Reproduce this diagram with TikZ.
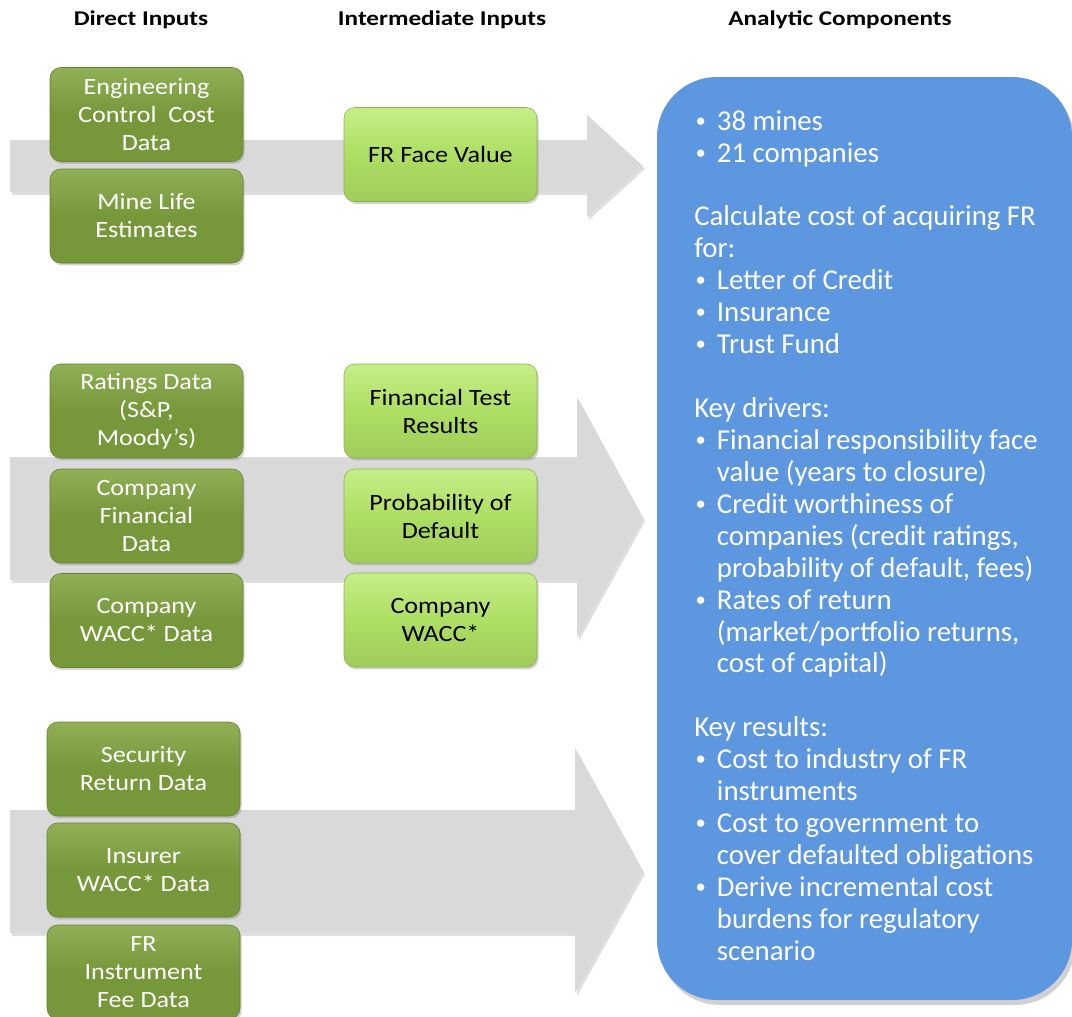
\documentclass[tikz,border=0pt]{standalone}
\usepackage{fontspec}
\setmainfont{Carlito}
\newfontfamily\headfont[FakeStretch=1.2]{Carlito}
\newfontfamily\boxfont[FakeStretch=1.12]{Carlito}
\usetikzlibrary{shadows}

\definecolor{inputgreen}{HTML}{77973B}
\definecolor{inputgreentop}{HTML}{8FB055}
\definecolor{midgreen}{HTML}{AEDE63}
\definecolor{midgreentop}{HTML}{C6EE88}
\definecolor{panelblue}{HTML}{5D97E0}
\definecolor{flowgray}{HTML}{D9D9D9}
\definecolor{flowshade}{HTML}{B8B8B8}

% bullet lines and their hanging continuation lines in the panel
\newcommand{\pdot}{\raisebox{2.2pt}{\fontsize{15.5}{15.5}\selectfont\textbullet}}
\newcommand{\pbul}[1]{\makebox[17pt][l]{\hspace*{1pt}\pdot}#1}
\newcommand{\pcont}[1]{\hspace*{17pt}#1}

\begin{document}
\begin{tikzpicture}[x=0.75pt,y=-0.75pt,
  head/.style={font=\headfont\bfseries\fontsize{15.75}{19}\selectfont, inner sep=0pt},
  boxbase/.style={rounded corners=8pt, minimum width=144.75pt, minimum height=70.5pt,
    inner sep=2pt, align=center, font=\boxfont\fontsize{17.5}{21}\selectfont,
    drop shadow={shadow xshift=1.2pt, shadow yshift=-1.8pt, opacity=0.35}},
  inbox/.style={boxbase, text=white, top color=inputgreentop, bottom color=inputgreen,
    middle color=inputgreen, draw=inputgreen!85!black, line width=0.4pt},
  midbox/.style={boxbase, text=black, top color=midgreentop, bottom color=midgreen!92!black,
    middle color=midgreen, draw=midgreen!80!black, line width=0.4pt},
  flow/.style={fill=flowgray},
  flowshadow/.style={fill=flowshade, opacity=0.45},
  panel/.style={fill=panelblue, rounded corners=45pt},
  panelshadow/.style={fill=black, opacity=0.18, rounded corners=45pt},
  paneltext/.style={text=white, align=left, inner sep=0pt,
    font=\fontsize{21.6}{23.95}\selectfont}
]
\useasboundingbox (0,0) rectangle (1072,1017);
\clip (0,0) rectangle (1072,1017);

% column headings
\node[head] (hdirect) at (141,20) {Direct Inputs};
\node[head] (hinter) at (442,20) {Intermediate Inputs};
\node[head] (hanalytic) at (840,20) {Analytic Components};

% block arrows (with a soft offset shadow)
\fill[flowshadow] (12,143) -- (589,143) -- (589,118) -- (645,169) -- (589,220) -- (589,195) -- (12,195) -- cycle;
\fill[flow] (10,140) -- (587,140) -- (587,115) -- (643,166) -- (587,217) -- (587,192) -- (10,192) -- cycle;

\fill[flowshadow] (12,460) -- (579,460) -- (579,400) -- (645,521) -- (579,641) -- (579,583) -- (12,583) -- cycle;
\fill[flow] (10,457) -- (577,457) -- (577,397) -- (643,518) -- (577,638) -- (577,580) -- (10,580) -- cycle;

\fill[flowshadow] (12,813) -- (577,813) -- (577,751) -- (645,874) -- (577,996) -- (577,936) -- (12,936) -- cycle;
\fill[flow] (10,810) -- (575,810) -- (575,748) -- (643,871) -- (575,993) -- (575,933) -- (10,933) -- cycle;

% direct inputs
\node[inbox] (eng) at (146.5,114.5) {Engineering\\Control\ \ Cost\\Data};
\node[inbox] (mine) at (146.5,216) {Mine Life\\Estimates};
\node[inbox] (rating) at (146.5,411) {Ratings Data\\(S\&P,\\Moody’s)};
\node[inbox] (cofin) at (146.5,516) {Company\\Financial\\Data};
\node[inbox] (cowacc) at (146.5,620.5) {Company\\WACC* Data};
\node[inbox] (secret) at (143.5,769) {Security\\Return Data};
\node[inbox] (inswacc) at (143.5,870) {Insurer\\WACC* Data};
\node[inbox] (frfee) at (143.5,972) {FR\\Instrument\\Fee Data};

% intermediate inputs
\node[midbox] (face) at (440.5,154.5) {FR Face Value};
\node[midbox] (fintest) at (440.5,411) {Financial Test\\Results};
\node[midbox] (pdef) at (440.5,516) {Probability of\\Default};
\node[midbox] (wacc) at (440.5,620) {Company\\WACC*};

% analytic components panel
\fill[panelshadow] (660,82) rectangle (1075,1005);
\fill[panel] (657,77) rectangle (1072,1000);
\node[paneltext, anchor=north west] (ptext) at (694,110) {%
\pbul{38 mines}\\
\pbul{21 companies}\\
\mbox{}\\
Calculate cost of acquiring FR\\
for:\\
\pbul{Letter of Credit}\\
\pbul{Insurance}\\
\pbul{Trust Fund}\\
\mbox{}\\
Key drivers:\\
\pbul{Financial responsibility face}\\
\pcont{value (years to closure)}\\
\pbul{Credit worthiness of}\\
\pcont{companies (credit ratings,}\\
\pcont{probability of default, fees)}\\
\pbul{Rates of return}\\
\pcont{(market/portfolio returns,}\\
\pcont{cost of capital)}\\
\mbox{}\\
Key results:\\
\pbul{Cost to industry of FR}\\
\pcont{instruments}\\
\pbul{Cost to government to}\\
\pcont{cover defaulted obligations}\\
\pbul{Derive incremental cost}\\
\pcont{burdens for regulatory}\\
\pcont{scenario}};
\end{tikzpicture}
\end{document}
